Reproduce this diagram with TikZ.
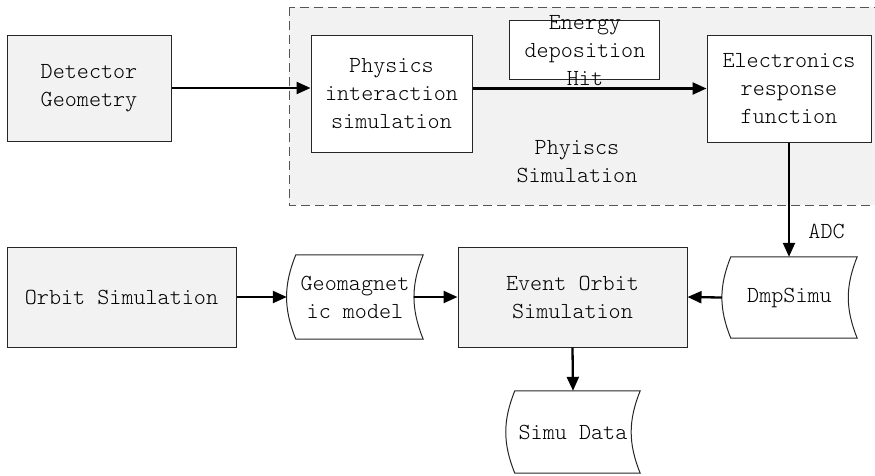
\documentclass[tikz,border=0pt]{standalone}
\usepackage{fontspec}
\setmonofont{Latin Modern Mono Light}
\usetikzlibrary{arrows.meta,positioning,calc}
\definecolor{boxgray}{RGB}{242,242,242}
\definecolor{dashgray}{RGB}{85,85,85}
\tikzset{
  block/.style={draw=black!85, line width=1pt, align=center, inner sep=0pt},
  grayblock/.style={block, fill=boxgray},
  whiteblock/.style={block, fill=white},
  storeblock/.style={align=center, inner sep=0pt},
  flow/.style={-{Triangle[length=14pt,width=12pt]}, line width=2.3pt},
}
\begin{document}
\begin{tikzpicture}[x=1pt, y=1pt, font=\ttfamily\fontsize{23}{28}\selectfont]
    \useasboundingbox (0,0) rectangle (875,-475);
    \clip (0,0) rectangle (875,-475);

    % Physics simulation region
    \draw[dashgray, line width=1pt, dash pattern=on 9pt off 5pt, fill=boxgray] (289,-7) rectangle (885,-205);
    \node[align=center] (physlabel) at (577,-162) {Phyiscs\\Simulation};

    % Upper row
    \node[grayblock, minimum width=164pt, minimum height=106pt] (det) at (89,-88) {Detector\\Geometry};
    \node[whiteblock, minimum width=161pt, minimum height=117pt] (phys) at (391.5,-93.5) {Physics\\interaction\\simulation};
    \node[whiteblock, minimum width=150pt, minimum height=59pt] (edep) at (584,-49.5) {};
    \node[align=center, inner sep=0pt] (edeptext) at (585,-51) {Energy\\deposition\\Hit};
    \node[whiteblock, minimum width=164pt, minimum height=107pt] (elec) at (789,-88.5) {Electronics\\response\\function};

    % Lower row
    \node[grayblock, minimum width=229pt, minimum height=100pt] (orbit) at (121.5,-297) {Orbit Simulation};
    \node[storeblock, minimum width=136pt, minimum height=84pt] (geo) at (355,-297) {Geomagnet\\ic model};
    \node[grayblock, minimum width=229pt, minimum height=100pt] (event) at (572.5,-297) {Event Orbit\\Simulation};
    \node[storeblock, minimum width=135pt, minimum height=81pt] (dmp) at (789.5,-297.5) {DmpSimu};
    \node[storeblock, minimum width=134pt, minimum height=82pt] (simu) at (573,-432) {Simu Data};

    % Stored data outlines
    \foreach \n in {geo,dmp,simu} {
        \draw[black!85, line width=1pt] ([xshift=9pt]\n.north west) to[bend right=22] ([xshift=9pt]\n.south west)
            -- (\n.south east) to[bend left=22] (\n.north east) -- cycle;
    }

    % Connectors
    \draw[flow] (det.east) -- (det.east -| phys.west);
    \draw[flow] (phys.east |- elec.west) -- (elec.west);
    \draw[flow] (elec.south) -- (elec.south |- dmp.north) node[pos=0.78, right=15pt] (adc) {ADC};
    \draw[flow] (orbit.east) -- (geo.west);
    \draw[flow] ([xshift=-9pt]geo.east) -- (event.west);
    \draw[flow] (dmp.west) -- (event.east);
    \draw[flow] (event.south) -- (simu.north);
\end{tikzpicture}
\end{document}
